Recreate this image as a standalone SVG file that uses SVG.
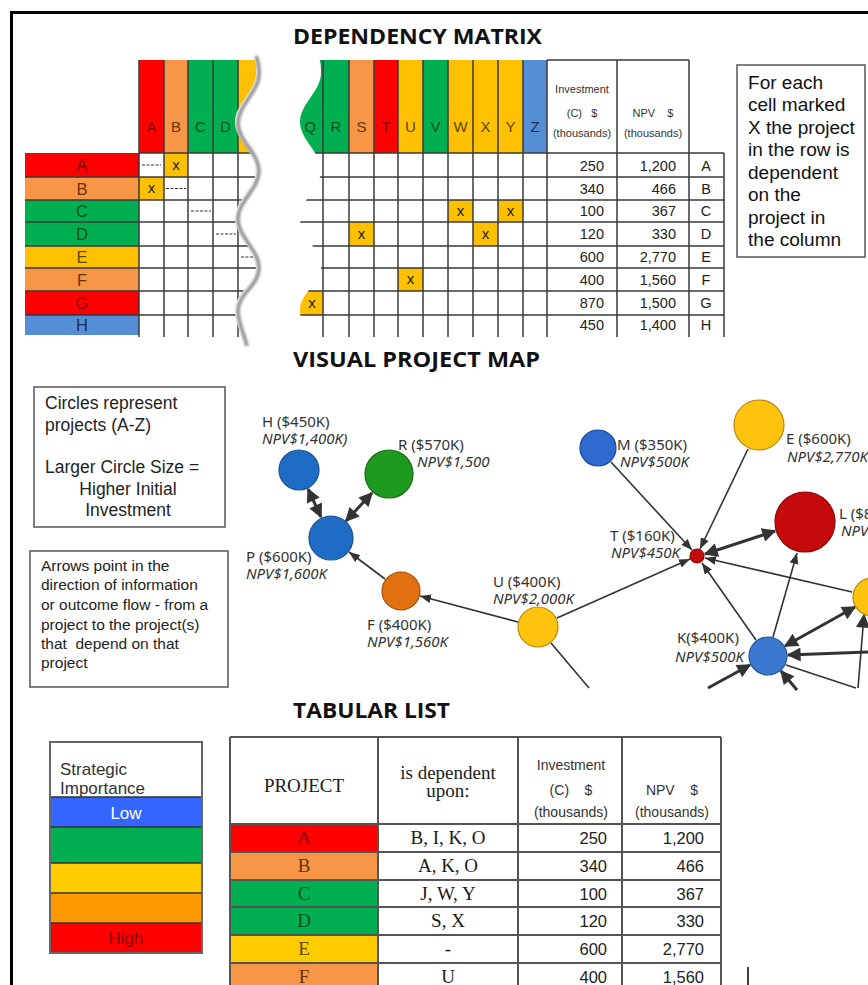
<svg xmlns="http://www.w3.org/2000/svg" width="868" height="985" viewBox="0 0 868 985">
<style>
.ttl{font-family:"Open Sans","Liberation Sans",sans-serif;font-weight:bold;font-size:22px;fill:#111}
.ar{font-family:"Liberation Sans",Arial,sans-serif}
.sf{font-family:"Liberation Serif","Times New Roman",serif}
.ml{font-family:"Noto Sans","DejaVu Sans",sans-serif;font-size:15px;fill:#333}
.mi{font-style:italic}
.g{stroke:#3a3a3a;stroke-width:1.5;fill:none}
.tg{stroke:#555;stroke-width:2;fill:none}
.bx{fill:#fff;stroke:#555;stroke-width:1.5}
.cR{fill:#FF0000}.cO{fill:#F79646}.cG{fill:#00B050}.cY{fill:#FFC000}.cB{fill:#558ED5}
.xc{fill:#FFC000}
.tR{fill:#8A0000}.tO{fill:#6A3208}.tG{fill:#0B4F24}.tY{fill:#5E4700}.tB{fill:#1A2F55}
.hl{font-size:15px;text-anchor:middle}
.rl{font-size:16.5px;text-anchor:middle}
.num{font-size:14.5px;text-anchor:end;fill:#222}
.cn{stroke:#333;stroke-width:1.6;fill:none}
.ck{stroke:#333;stroke-width:3;fill:none}
.nd{stroke-width:1.2}
</style>
<defs>
<marker id="ah" viewBox="0 0 10 8" refX="10" refY="4" markerWidth="11" markerHeight="9" markerUnits="userSpaceOnUse" orient="auto"><path d="M0,0 L10,4 L0,8 z" fill="#333"/></marker>
<marker id="ahb" viewBox="0 0 10 10" refX="9" refY="5" markerWidth="15" markerHeight="14" markerUnits="userSpaceOnUse" orient="auto-start-reverse"><path d="M0,0 L10,5 L0,10 z" fill="#333"/></marker>
<clipPath id="clipL"><path d="M0,0 L253,0 L253,55 C256,62 256,68 256,73 C256,91 235,104 235,122 C235,140 256,152 256,170 C256,188 235,200 235,218 C235,236 256,249 256,267 C256,285 235,292 235,310 C235,322 241,332 244,345 L0,345 Z"/></clipPath>
<clipPath id="clipR"><path d="M868,0 L318,0 L318,55 C321,62 321,68 321,73 C321,91 300,104 300,122 C300,140 321,152 321,170 C321,188 300,200 300,218 C300,236 321,249 321,267 C321,285 300,292 300,310 C300,322 306,332 309,345 L868,345 Z"/></clipPath>
<filter id="blur" x="-20%" y="-5%" width="140%" height="110%"><feGaussianBlur stdDeviation="1.2"/></filter>
</defs>
<rect width="868" height="985" fill="#fff"/>
<!-- frame -->
<path d="M11.5,985 L11.5,12.5 L868,12.5" stroke="#000" stroke-width="3" fill="none"/>

<!-- titles -->
<text class="ttl" x="293" y="44" textLength="249" lengthAdjust="spacingAndGlyphs">DEPENDENCY MATRIX</text>
<text class="ttl" x="293" y="367" textLength="247" lengthAdjust="spacingAndGlyphs">VISUAL PROJECT MAP</text>
<text class="ttl" x="293" y="718" textLength="157" lengthAdjust="spacingAndGlyphs">TABULAR LIST</text>

<!-- DEPENDENCY MATRIX -->
<g id="matrix">
  <g id="row-labels" class="ar">
    <rect class="cR" x="25" y="153" width="114" height="24"/>
    <rect class="cO" x="25" y="177" width="114" height="23"/>
    <rect class="cG" x="25" y="200" width="114" height="22"/>
    <rect class="cG" x="25" y="222" width="114" height="24"/>
    <rect class="cY" x="25" y="246" width="114" height="22"/>
    <rect class="cO" x="25" y="268" width="114" height="23"/>
    <rect class="cR" x="25" y="291" width="114" height="24"/>
    <rect class="cB" x="25" y="315" width="114" height="20"/>
    <path class="g" d="M25,177H139M25,200H139M25,222H139M25,246H139M25,268H139M25,291H139M25,315H139"/>
    <text class="rl tR" x="82" y="171">A</text>
    <text class="rl tO" x="82" y="194.5">B</text>
    <text class="rl tG" x="82" y="217">C</text>
    <text class="rl tG" x="82" y="240">D</text>
    <text class="rl tY" x="82" y="263">E</text>
    <text class="rl tO" x="82" y="285.5">F</text>
    <text class="rl tR" x="82" y="309">G</text>
    <text class="rl tB" x="82" y="331">H</text>
  </g>
  <g id="matrix-left" clip-path="url(#clipL)" class="ar">
    <rect class="cR" x="139" y="60" width="25" height="93"/>
    <rect class="cO" x="164" y="60" width="24" height="93"/>
    <rect class="cG" x="188" y="60" width="25" height="93"/>
    <rect class="cG" x="213" y="60" width="25" height="93"/>
    <rect class="cY" x="238" y="60" width="30" height="93"/>
    <rect class="xc" x="164" y="153" width="24" height="24"/>
    <rect class="xc" x="139" y="177" width="25" height="23"/>
    <path class="g" d="M139,60V337M164,60V337M188,60V337M213,60V337M238,60V337"/>
    <path class="g" d="M139,153H270M139,177H270M139,200H270M139,222H270M139,246H270M139,268H270M139,291H270M139,315H270"/>
    <path d="M142,165H161M166,188.5H186M191,211H211M216,234H236M241,257H262" stroke="#333" stroke-width="1.2" stroke-dasharray="3,1.5"/>
    <text class="hl tR" x="151.5" y="132">A</text>
    <text class="hl tO" x="176" y="132">B</text>
    <text class="hl tG" x="200.5" y="132">C</text>
    <text class="hl tG" x="225.5" y="132">D</text>
    <text class="hl" x="176" y="170" fill="#222">x</text>
    <text class="hl" x="151.5" y="193" fill="#222">x</text>
  </g>
  <path d="M253,55 C256,62 256,68 256,73 C256,91 235,104 235,122 C235,140 256,152 256,170 C256,188 235,200 235,218 C235,236 256,249 256,267 C256,285 235,292 235,310 C235,322 241,332 244,345" fill="none" stroke="#9a9a9a" stroke-width="4" transform="translate(3,1)" filter="url(#blur)"/>
  <g id="matrix-right" clip-path="url(#clipR)" class="ar">
    <rect class="cG" x="290" y="60" width="33" height="93"/>
    <rect class="cG" x="323" y="60" width="26" height="93"/>
    <rect class="cO" x="349" y="60" width="25" height="93"/>
    <rect class="cR" x="374" y="60" width="24" height="93"/>
    <rect class="cY" x="398" y="60" width="25" height="93"/>
    <rect class="cG" x="423" y="60" width="25" height="93"/>
    <rect class="cY" x="448" y="60" width="25" height="93"/>
    <rect class="cY" x="473" y="60" width="25" height="93"/>
    <rect class="cY" x="498" y="60" width="25" height="93"/>
    <rect class="cB" x="523" y="60" width="24" height="93"/>
    <rect class="xc" x="448" y="200" width="25" height="22"/>
    <rect class="xc" x="498" y="200" width="25" height="22"/>
    <rect class="xc" x="349" y="222" width="25" height="24"/>
    <rect class="xc" x="473" y="222" width="25" height="24"/>
    <rect class="xc" x="398" y="268" width="25" height="23"/>
    <rect class="xc" x="290" y="291" width="33" height="24"/>
    <path class="g" d="M323,60V337M349,60V337M374,60V337M398,60V337M423,60V337M448,60V337M473,60V337M498,60V337M523,60V337M547,60V337M617,60V337M689,60V337M724,153V337"/>
    <path class="g" d="M547,60H689M290,153H724M290,177H724M290,200H724M290,222H724M290,246H724M290,268H724M290,291H724M290,315H724"/>
    <text class="hl tG" x="310" y="132">Q</text>
    <text class="hl tG" x="336" y="132">R</text>
    <text class="hl tO" x="361.5" y="132">S</text>
    <text class="hl tR" x="386" y="132">T</text>
    <text class="hl tY" x="410.5" y="132">U</text>
    <text class="hl tG" x="435.5" y="132">V</text>
    <text class="hl tY" x="460.5" y="132">W</text>
    <text class="hl tY" x="485.5" y="132">X</text>
    <text class="hl tY" x="510.5" y="132">Y</text>
    <text class="hl tB" x="535" y="132">Z</text>
    <text class="hl" x="460.5" y="216" fill="#222">x</text>
    <text class="hl" x="510.5" y="216" fill="#222">x</text>
    <text class="hl" x="361.5" y="239" fill="#222">x</text>
    <text class="hl" x="485.5" y="239" fill="#222">x</text>
    <text class="hl" x="410.5" y="284" fill="#222">x</text>
    <text class="hl" x="312" y="308" fill="#222">x</text>
    <g font-size="11px" fill="#333" text-anchor="middle">
      <text x="582" y="93">Investment</text>
      <text x="582" y="117" xml:space="preserve">(C)   $</text>
      <text x="582" y="137">(thousands)</text>
      <text x="653" y="117" xml:space="preserve">NPV    $</text>
      <text x="653" y="137">(thousands)</text>
    </g>
    <g class="num">
      <text x="604" y="170.5">250</text><text x="676" y="170.5">1,200</text>
      <text x="604" y="193.5">340</text><text x="676" y="193.5">466</text>
      <text x="604" y="216">100</text><text x="676" y="216">367</text>
      <text x="604" y="239">120</text><text x="676" y="239">330</text>
      <text x="604" y="262">600</text><text x="676" y="262">2,770</text>
      <text x="604" y="284.5">400</text><text x="676" y="284.5">1,560</text>
      <text x="604" y="308">870</text><text x="676" y="308">1,500</text>
      <text x="604" y="330">450</text><text x="676" y="330">1,400</text>
    </g>
    <g font-size="14.5px" fill="#222" text-anchor="middle">
      <text x="706" y="170.5">A</text><text x="706" y="193.5">B</text><text x="706" y="216">C</text><text x="706" y="239">D</text>
      <text x="706" y="262">E</text><text x="706" y="284.5">F</text><text x="706" y="308">G</text><text x="706" y="330">H</text>
    </g>
  </g>
  <g id="note-matrix">
    <rect class="bx" x="737" y="65" width="128" height="192"/>
    <g class="ar" font-size="18.5px" fill="#111" transform="translate(748,0) scale(1.03,1)">
      <text x="0" y="89">For each</text>
      <text x="0" y="111">cell marked</text>
      <text x="0" y="134">X the project</text>
      <text x="0" y="156">in the row is</text>
      <text x="0" y="179">dependent</text>
      <text x="0" y="201">on the</text>
      <text x="0" y="224">project in</text>
      <text x="0" y="246">the column</text>
    </g>
  </g>
</g>

<!-- VISUAL PROJECT MAP -->
<g id="note-circles">
  <rect class="bx" x="34" y="387" width="191" height="140"/>
  <g class="ar" font-size="17.5px" fill="#222">
    <text x="45" y="409">Circles represent</text>
    <text x="45" y="431">projects (A-Z)</text>
    <text x="45" y="473">Larger Circle Size =</text>
    <text x="128" y="495" text-anchor="middle">Higher Initial</text>
    <text x="128" y="516" text-anchor="middle">Investment</text>
  </g>
</g>
<g id="note-arrows">
  <rect class="bx" x="30" y="551" width="198" height="136"/>
  <g class="ar" font-size="15.5px" fill="#222">
    <text x="41" y="571">Arrows point in the</text>
    <text x="41" y="590">direction of information</text>
    <text x="41" y="610">or outcome flow - from a</text>
    <text x="41" y="630">project to the project(s)</text>
    <text x="41" y="649" xml:space="preserve">that  depend on that</text>
    <text x="41" y="668">project</text>
  </g>
</g>

<g id="connectors">
  <line class="ck" x1="308" y1="489" x2="321" y2="517" marker-start="url(#ahb)" marker-end="url(#ahb)"/>
  <line class="ck" x1="372" y1="493" x2="346" y2="521" marker-start="url(#ahb)" marker-end="url(#ahb)"/>
  <line class="cn" x1="385" y1="579" x2="349" y2="552" marker-end="url(#ah)"/>
  <line class="cn" x1="518" y1="622" x2="420" y2="596" marker-end="url(#ah)"/>
  <line class="cn" x1="557" y1="618" x2="690" y2="559" marker-end="url(#ah)"/>
  <line class="cn" x1="551" y1="643" x2="589" y2="688"/>
  <line class="cn" x1="611" y1="462" x2="692" y2="550" marker-end="url(#ah)"/>
  <line class="cn" x1="748" y1="449" x2="700" y2="549" marker-end="url(#ah)"/>
  <line class="ck" x1="705" y1="554" x2="775" y2="531" marker-start="url(#ahb)" marker-end="url(#ahb)"/>
  <line class="cn" x1="852" y1="592" x2="705" y2="558" marker-end="url(#ah)"/>
  <line class="cn" x1="756" y1="640" x2="702" y2="563" marker-end="url(#ah)"/>
  <line class="cn" x1="773" y1="637" x2="797" y2="553" marker-end="url(#ah)"/>
  <line class="ck" x1="785" y1="646" x2="855" y2="607" marker-start="url(#ahb)" marker-end="url(#ahb)"/>
  <line class="ck" x1="868" y1="652" x2="788" y2="655" marker-end="url(#ahb)"/>
  <line class="ck" x1="708" y1="688" x2="750" y2="665" marker-end="url(#ahb)"/>
  <line class="ck" x1="797" y1="690" x2="781" y2="671" marker-end="url(#ahb)"/>
  <line class="cn" x1="786" y1="665" x2="856" y2="688"/>
  <line class="cn" x1="858" y1="688" x2="864" y2="615" marker-end="url(#ahb)"/>
</g>

<g id="node-H"><circle class="nd" cx="299" cy="470" r="20" fill="#1F6CC4" stroke="#174f91"/><text class="ml" x="262" y="427">H ($450K)</text><text class="ml mi" x="262" y="444">NPV$1,400K)</text></g>
<g id="node-R"><circle class="nd" cx="389" cy="474" r="24" fill="#1E9A1E" stroke="#146b14"/><text class="ml" x="398" y="450">R ($570K)</text><text class="ml mi" x="417" y="467">NPV$1,500</text></g>
<g id="node-P"><circle class="nd" cx="331" cy="538" r="22" fill="#1F6CC4" stroke="#174f91"/><text class="ml" x="246" y="562">P ($600K)</text><text class="ml mi" x="246" y="579">NPV$1,600K</text></g>
<g id="node-F"><circle class="nd" cx="401" cy="591" r="19" fill="#E07010" stroke="#a5520b"/><text class="ml" x="367" y="630">F ($400K)</text><text class="ml mi" x="367" y="647">NPV$1,560K</text></g>
<g id="node-U"><circle class="nd" cx="538" cy="627" r="20" fill="#FFC20E" stroke="#b58a0a"/><text class="ml" x="493" y="587">U ($400K)</text><text class="ml mi" x="493" y="604">NPV$2,000K</text></g>
<g id="node-M"><circle class="nd" cx="598" cy="448" r="18" fill="#2E6AD0" stroke="#1d4a96"/><text class="ml" x="617" y="450">M ($350K)</text><text class="ml mi" x="620" y="467">NPV$500K</text></g>
<g id="node-E"><circle class="nd" cx="759" cy="425" r="25" fill="#FFC20E" stroke="#b58a0a"/><text class="ml" x="786" y="444">E ($600K)</text><text class="ml mi" x="787" y="462">NPV$2,770K</text></g>
<g id="node-L"><circle class="nd" cx="805" cy="522" r="30" fill="#C40A0A" stroke="#8a0606"/><text class="ml" x="839" y="519">L ($8</text><text class="ml mi" x="841" y="536">NPV</text></g>
<g id="node-T"><circle class="nd" cx="697" cy="556" r="7" fill="#C40A0A" stroke="#8a0606"/><text class="ml" x="610" y="541">T ($160K)</text><text class="ml mi" x="611" y="558">NPV$450K</text></g>
<g id="node-K"><circle class="nd" cx="768" cy="656" r="19" fill="#3A78D0" stroke="#25559a"/><text class="ml" x="677" y="643">K($400K)</text><text class="ml mi" x="675" y="662">NPV$500K</text></g>
<g id="node-Y"><circle class="nd" cx="872" cy="597" r="19" fill="#FFC20E" stroke="#b58a0a"/></g>

<!-- TABULAR LIST -->
<g id="legend">
  <rect x="50" y="742" width="152" height="211" fill="#fff"/>
  <rect x="50" y="797" width="152" height="30" fill="#3366FF"/>
  <rect x="50" y="827" width="152" height="36" fill="#00B050"/>
  <rect x="50" y="863" width="152" height="30" fill="#FFCC00"/>
  <rect x="50" y="893" width="152" height="30" fill="#FF9900"/>
  <rect x="50" y="923" width="152" height="30" fill="#FF0000"/>
  <path d="M50,797H202M50,827H202M50,863H202M50,893H202M50,923H202" stroke="#333" stroke-width="1.5"/>
  <rect x="50" y="742" width="152" height="211" fill="none" stroke="#666" stroke-width="2"/>
  <g class="ar" font-size="17px">
    <text x="60" y="775" fill="#333">Strategic</text>
    <text x="60" y="794" fill="#333">Importance</text>
    <text x="126" y="819" text-anchor="middle" fill="#fff">Low</text>
    <text x="126" y="944" text-anchor="middle" fill="#8B0000">High</text>
  </g>
</g>
<g id="table">
  <rect class="cR" x="230" y="824" width="148" height="28"/>
  <rect class="cO" x="230" y="852" width="148" height="28"/>
  <rect class="cG" x="230" y="880" width="148" height="27"/>
  <rect class="cG" x="230" y="907" width="148" height="28"/>
  <rect x="230" y="935" width="148" height="28" fill="#FFCC00"/>
  <rect class="cO" x="230" y="963" width="148" height="28"/>
  <path class="tg" d="M230,737H721M230,824H721M230,852H721M230,880H721M230,907H721M230,935H721M230,963H721"/>
  <path class="tg" d="M230,737V985M378,737V985M518,737V985M622,737V985M721,737V985"/>
  <g class="sf" font-size="19px" text-anchor="middle" fill="#1a1a1a">
    <text x="304" y="792">PROJECT</text>
    <text x="448" y="779">is dependent</text>
    <text x="448" y="797">upon:</text>
    <text x="304" y="844" class="tR">A</text>
    <text x="304" y="872" class="tO">B</text>
    <text x="304" y="899.5" class="tG">C</text>
    <text x="304" y="927" class="tG">D</text>
    <text x="304" y="955" class="tY">E</text>
    <text x="304" y="983" class="tO">F</text>
    <text x="448" y="844">B, I, K, O</text>
    <text x="448" y="872">A, K, O</text>
    <text x="448" y="899.5">J, W, Y</text>
    <text x="448" y="927">S, X</text>
    <text x="448" y="955">-</text>
    <text x="448" y="983">U</text>
  </g>
  <g class="ar" font-size="14px" fill="#333" text-anchor="middle">
    <text x="571" y="770">Investment</text>
    <text x="571" y="795" xml:space="preserve">(C)    $</text>
    <text x="571" y="817">(thousands)</text>
    <text x="672" y="795" xml:space="preserve">NPV    $</text>
    <text x="672" y="817">(thousands)</text>
  </g>
  <g class="ar" font-size="16.5px" fill="#222" text-anchor="end">
    <text x="607" y="844">250</text><text x="704" y="844">1,200</text>
    <text x="607" y="872">340</text><text x="704" y="872">466</text>
    <text x="607" y="899.5">100</text><text x="704" y="899.5">367</text>
    <text x="607" y="927">120</text><text x="704" y="927">330</text>
    <text x="607" y="955">600</text><text x="704" y="955">2,770</text>
    <text x="607" y="983">400</text><text x="704" y="983">1,560</text>
  </g>
  <line x1="748" y1="967" x2="748" y2="985" stroke="#000" stroke-width="1.5"/>
</g>
</svg>
